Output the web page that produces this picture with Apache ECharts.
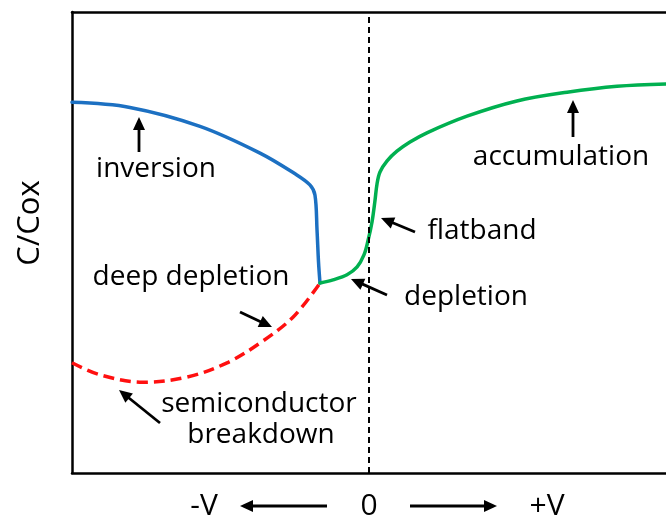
<!DOCTYPE html>
<html>
<head>
<meta charset="utf-8">
<script src="https://cdn.jsdelivr.net/npm/echarts@6/dist/echarts.min.js"></script>
<style>
  html, body { margin: 0; padding: 0; background: #fff; }
  #chart { width: 666px; height: 523px; }
</style>
</head>
<body>
<div id="chart"></div>
<script>
// Gate voltage (normalised, -V .. +V) and C/Cox for each branch of the MOS C-V curve
const inversionV = [-1.0, -0.805, -0.569, -0.367, -0.249, -0.199, -0.182, -0.175, -0.170, -0.165];
const inversionC = [0.804, 0.793, 0.752, 0.694, 0.649, 0.625, 0.603, 0.527, 0.458, 0.412];

const accumV = [-0.165, -0.121, -0.074, -0.040, -0.017, -0.003, 0.010, 0.020, 0.027, 0.037, 0.061, 0.094, 0.138, 0.195, 0.330, 0.498, 0.667, 0.835, 1.0];
const accumC = [0.412, 0.419, 0.430, 0.447, 0.473, 0.505, 0.544, 0.590, 0.627, 0.653, 0.677, 0.698, 0.718, 0.738, 0.774, 0.807, 0.826, 0.839, 0.844];

const deepV = [-1.0, -0.906, -0.761, -0.613, -0.478, -0.367, -0.256, -0.165];
const deepC = [0.239, 0.213, 0.197, 0.208, 0.239, 0.282, 0.338, 0.412];

const xTickLabels = ['-V', '0', '+V'];
const yAxisTitle = 'C/Cox';

const zip = (xs, ys) => xs.map((x, i) => [x, ys[i]]);

const ANN_FONT = '28px "Open Sans"';
const AXIS_FONT = '30px "Open Sans"';

function label(text, x, y, font) {
  return {
    type: 'text', x: x, y: y, silent: true, z: 10,
    style: { text: text, font: font || ANN_FONT, fill: '#000', textAlign: 'center', textVerticalAlign: 'middle' }
  };
}

// straight arrow from (x1,y1) with its head at (x2,y2)
function arrow(x1, y1, x2, y2) {
  const ang = Math.atan2(y2 - y1, x2 - x1);
  const len = 13, half = 6;
  const bx = x2 - len * Math.cos(ang), by = y2 - len * Math.sin(ang);
  const px = -Math.sin(ang) * half, py = Math.cos(ang) * half;
  return [
    { type: 'line', silent: true, z: 10,
      shape: { x1: x1, y1: y1, x2: bx + Math.cos(ang), y2: by + Math.sin(ang) },
      style: { stroke: '#000', lineWidth: 2.8 } },
    { type: 'polygon', silent: true, z: 10,
      shape: { points: [[x2, y2], [bx + px, by + py], [bx - px, by - py]] },
      style: { fill: '#000' } }
  ];
}

const graphics = [
  label('inversion', 156, 169),
  label('accumulation', 561, 157),
  label('flatband', 482, 231),
  label('depletion', 466, 297),
  label('deep depletion', 191, 277),
  label('semiconductor', 259, 404),
  label('breakdown', 261, 435),
  label(xTickLabels[0], 204, 506, AXIS_FONT),
  label(xTickLabels[1], 369, 506, AXIS_FONT),
  label(xTickLabels[2], 547, 506, AXIS_FONT),
  { type: 'text', x: 30, y: 223, rotation: Math.PI / 2, silent: true,
    style: { text: yAxisTitle, font: '31px "Open Sans"', fill: '#000', textAlign: 'center', textVerticalAlign: 'middle' } }
].concat(
  arrow(139, 152, 139, 117),
  arrow(573, 137, 573, 100),
  arrow(415, 232, 381, 218),
  arrow(387, 295, 351, 279),
  arrow(240, 312, 272, 327),
  arrow(160, 423, 119, 390),
  arrow(327, 506, 240, 506),
  arrow(410, 506, 497, 506)
);

const chart = echarts.init(document.getElementById('chart'), null, { renderer: 'canvas' });
chart.setOption({
  animation: false,
  backgroundColor: '#fff',
  grid: { left: 72, right: 0, top: 12, bottom: 50 },
  xAxis: [
    { type: 'value', min: -1, max: 1, position: 'bottom',
      axisLine: { show: true, onZero: false, lineStyle: { color: '#000', width: 2.5 } },
      axisTick: { show: false }, axisLabel: { show: false }, splitLine: { show: false } },
    { type: 'value', min: -1, max: 1, position: 'top',
      axisLine: { show: true, onZero: false, lineStyle: { color: '#000', width: 2.5 } },
      axisTick: { show: false }, axisLabel: { show: false }, splitLine: { show: false } }
  ],
  yAxis: {
    type: 'value', min: 0, max: 1,
    axisLine: { show: true, onZero: false, lineStyle: { color: '#000', width: 2.5 } },
    axisTick: { show: false }, axisLabel: { show: false }, splitLine: { show: false }
  },
  series: [
    { name: 'inversion', type: 'line', data: zip(inversionV, inversionC),
      showSymbol: false, smooth: 0.35, z: 3,
      lineStyle: { color: '#1C70C2', width: 3.5, cap: 'round', join: 'round' } },
    { name: 'deep depletion', type: 'line', data: zip(deepV, deepC),
      showSymbol: false, smooth: 0.35, z: 3,
      lineStyle: { color: '#FF1010', width: 3.5, type: [11, 6] } },
    { name: 'accumulation', type: 'line', data: zip(accumV, accumC),
      showSymbol: false, smooth: 0.35, z: 3,
      lineStyle: { color: '#00B050', width: 3.5, cap: 'round', join: 'round' },
      markLine: {
        silent: true, symbol: ['none', 'none'], label: { show: false },
        lineStyle: { color: '#000', width: 2, type: [6, 4] },
        data: [{ xAxis: 0 }]
      } }
  ],
  graphic: graphics
});
</script>
</body>
</html>
